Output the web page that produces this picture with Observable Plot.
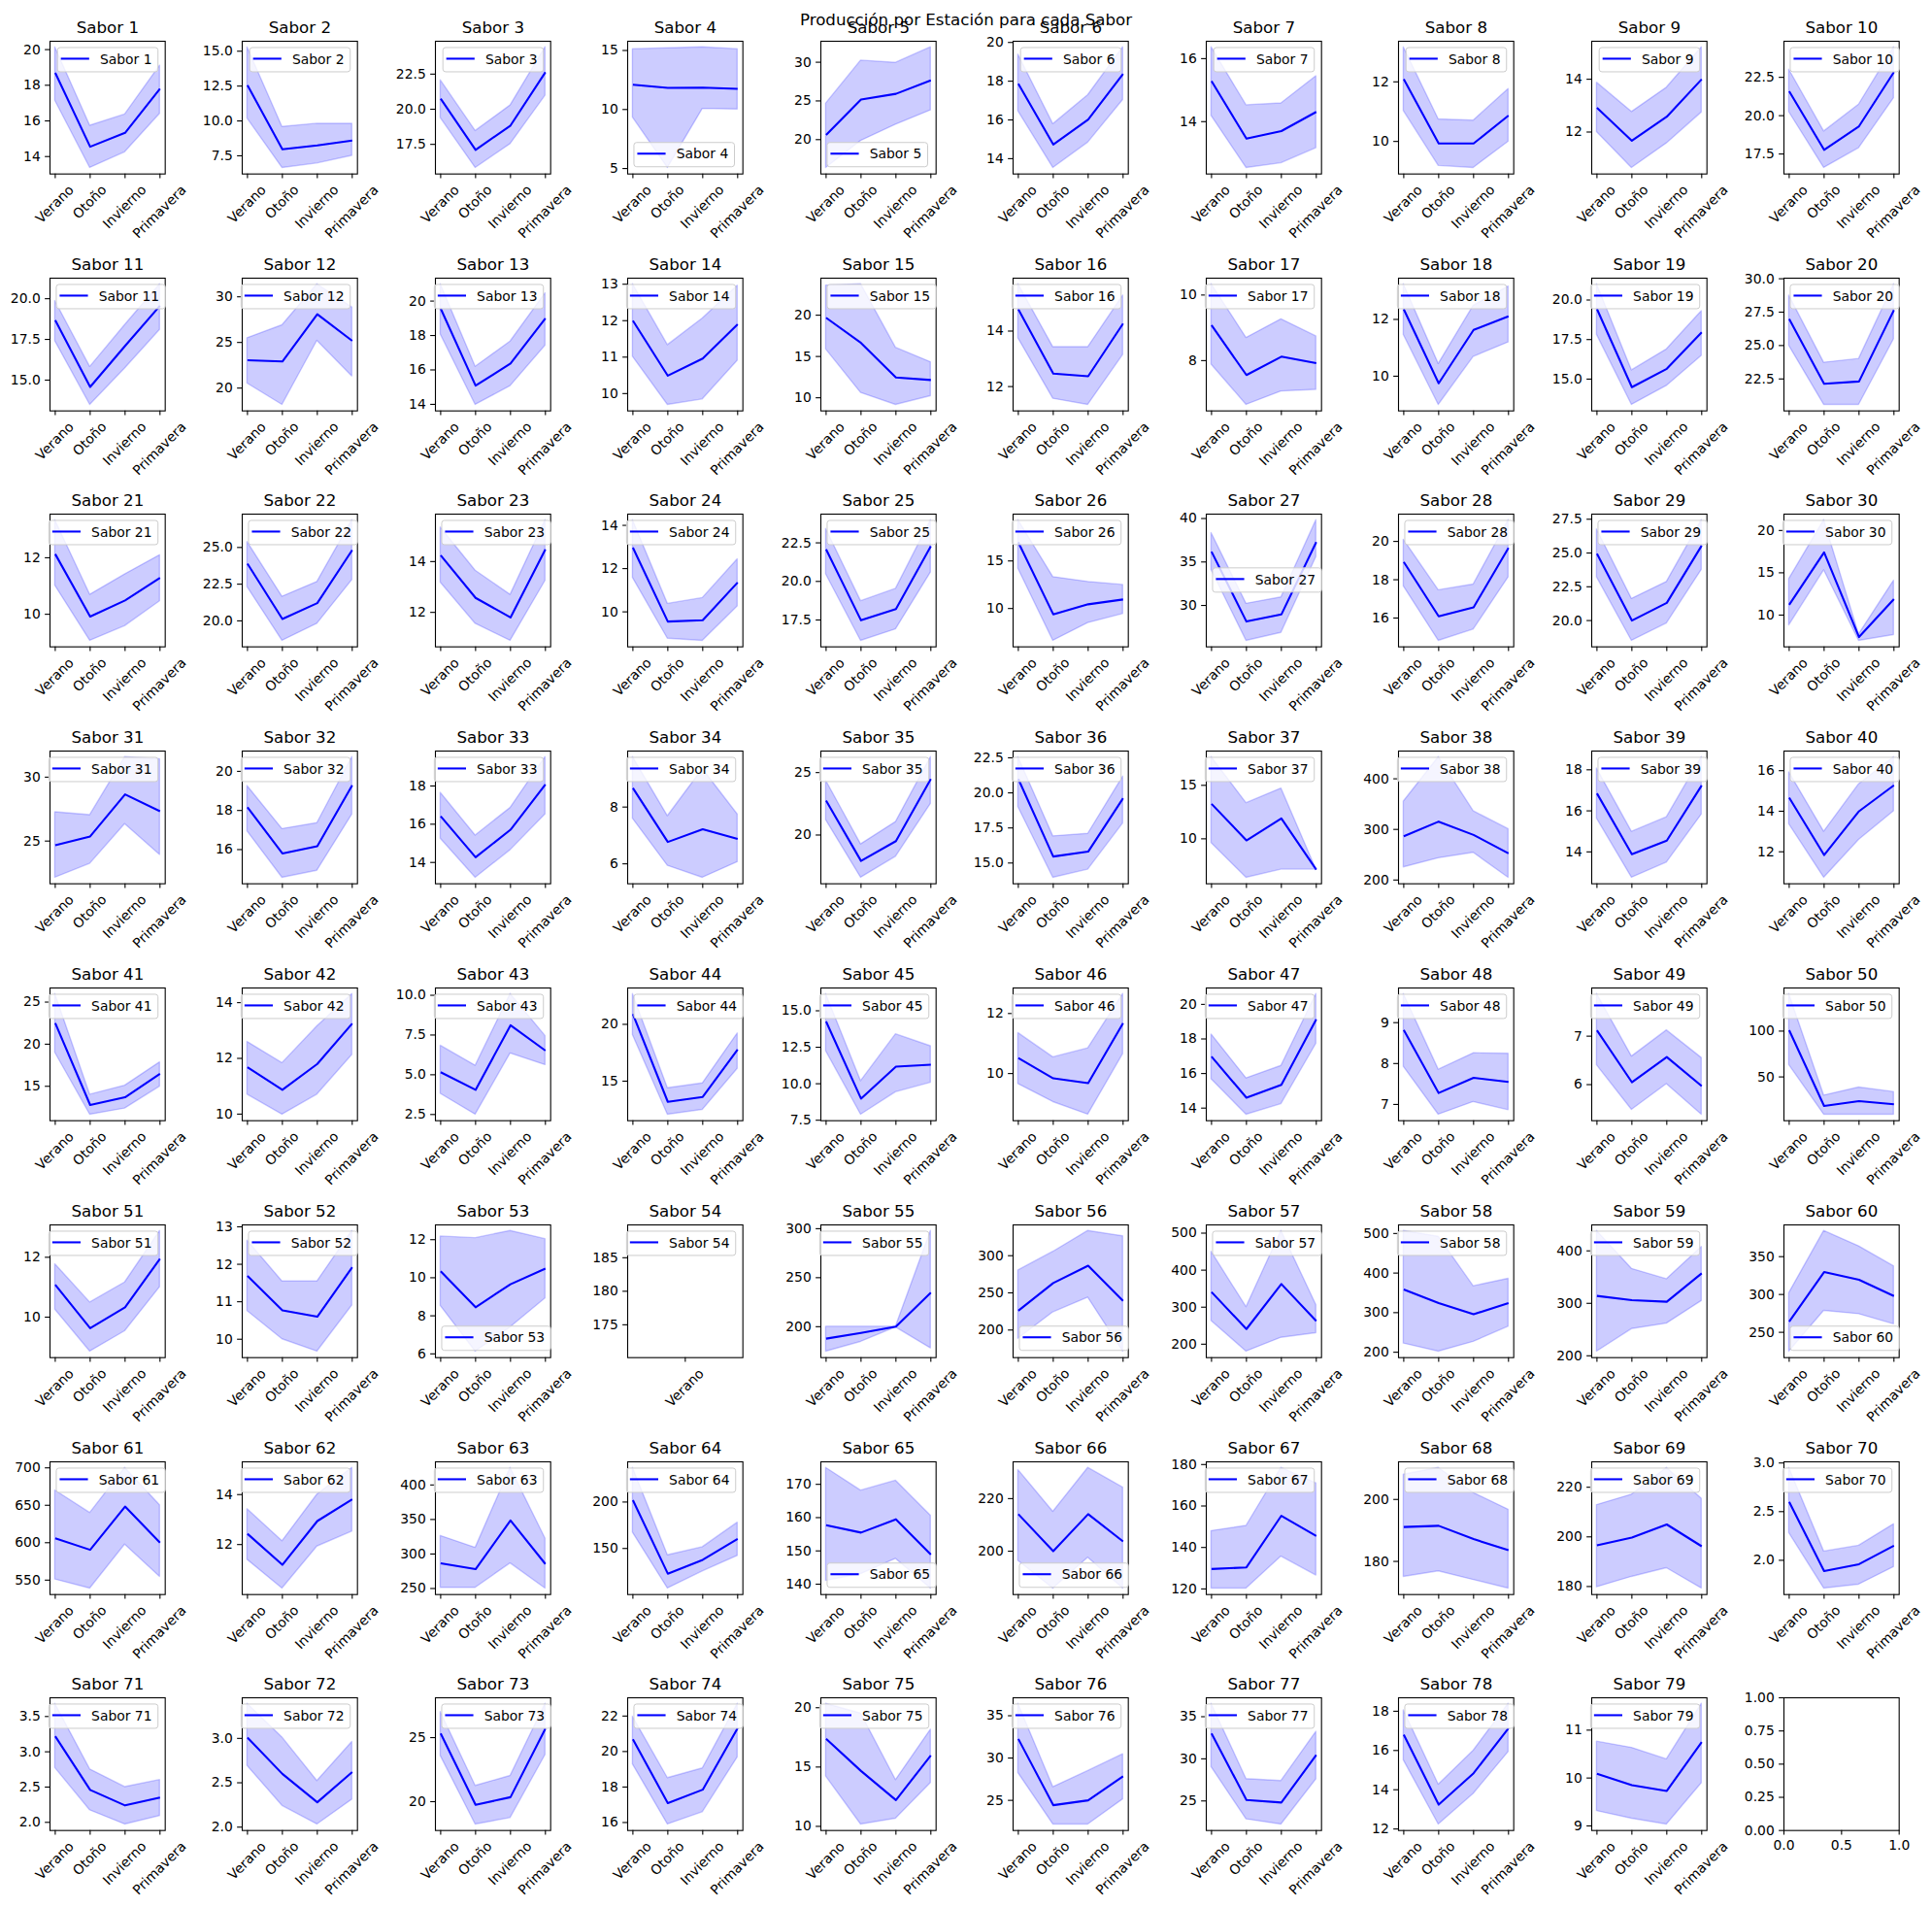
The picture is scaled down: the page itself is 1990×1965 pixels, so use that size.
<!DOCTYPE html>
<html lang="es">
<head>
<meta charset="utf-8">
<title>Producción por Estación para cada Sabor</title>
<script src="https://cdn.jsdelivr.net/npm/d3@7"></script>
<script src="https://cdn.jsdelivr.net/npm/@observablehq/plot@0.6"></script>
<style>
html,body{margin:0;padding:0;background:#fff;}
#figure{position:relative;width:1990px;height:1965px;overflow:hidden;font-family:"DejaVu Sans",sans-serif;color:#000;background:#fff;}
#figure svg{position:absolute;}
#suptitle{position:absolute;left:0;width:1990px;top:13.4px;text-align:center;font-size:16.67px;line-height:1;white-space:nowrap;font-family:"DejaVu Sans",sans-serif;}
</style>
</head>
<body>
<div id="figure"></div>
<script>
// ---------------- DATA ----------------
const chartTitle = "Producción por Estación para cada Sabor";
const seasons = ["Verano", "Otoño", "Invierno", "Primavera"];
const flavors = Array.from({length: 79}, (_, i) => `Sabor ${i + 1}`);

const meanValues = [
  [18.7,14.55,15.33,17.8],[12.56,7.97,8.25,8.6],[20.75,17.11,18.84,22.64],[12.1,11.83,11.86,11.75],[20.59,25.17,25.92,27.65],
  [17.87,14.73,16.02,18.37],[15.29,13.46,13.7,14.31],[12.09,9.93,9.93,10.87],[12.92,11.67,12.58,14.0],[21.59,17.77,19.31,22.84],
  [18.68,14.58,17.1,19.57],[23.05,22.91,28.09,25.18],[19.57,15.09,16.37,19.0],[12.0,10.49,10.96,11.9],[19.69,16.64,12.46,12.15],
  [14.79,12.47,12.37,14.27],[9.08,7.56,8.12,7.92],[12.36,9.75,11.63,12.11],[19.43,14.49,15.65,17.96],[26.99,22.14,22.31,27.65],
  [12.13,9.92,10.49,11.29],[23.9,20.13,21.21,24.82],[14.25,12.57,11.8,14.48],[12.97,9.55,9.61,11.36],[22.08,17.48,18.21,22.29],
  [16.97,9.39,10.44,10.95],[36.19,28.15,28.96,37.3],[18.93,16.09,16.56,19.66],[24.95,20.0,21.31,25.55],[11.22,17.41,7.41,11.9],
  [24.67,25.36,28.65,27.33],[18.16,15.8,16.17,19.29],[16.42,14.27,15.71,18.08],[8.67,6.77,7.22,6.88],[22.75,17.93,19.51,24.48],
  [20.99,15.46,15.81,19.61],[13.27,9.85,11.91,7.12],[286.5,315.4,289.1,252.6],[16.85,13.89,14.55,17.24],[14.67,11.84,14.0,15.28],
  [22.51,12.78,13.7,16.49],[11.68,10.87,11.8,13.25],[5.16,4.05,8.11,6.52],[20.91,13.18,13.61,17.78],[14.27,8.98,11.17,11.31],
  [10.52,9.84,9.68,11.68],[16.98,14.6,15.35,19.14],[8.82,7.28,7.65,7.55],[7.12,6.05,6.57,5.97],[101,18.3,23.6,20.1],
  [11.08,9.63,10.33,11.95],[11.69,10.77,10.6,11.92],[10.34,8.45,9.66,10.48],[180],[187.8,193.7,200,234.7],
  [226,263.2,286.6,239.2],[340.9,240.9,362.6,262.6],[358.6,324.3,295.9,324.3],[314.1,306.1,303.1,357.1],[264,329.6,319.4,298],
  [606,590.5,648.3,600],[12.43,11.19,12.94,13.81],[286.4,278,348.6,285.5],[202,122.9,137.8,160.4],[157.7,155.5,159.5,148.9],
  [214.1,200,214.1,203.7],[129.6,130.4,155.3,145.5],[191.1,191.5,187.2,183.6],[196.6,199.7,205,196.2],[2.6,1.89,1.96,2.15],
  [3.22,2.46,2.24,2.35],[3.01,2.6,2.28,2.62],[25.33,19.75,20.35,25.7],[20.69,17.09,17.85,21.32],[17.38,14.67,12.21,15.97],
  [32.26,24.43,25.0,27.85],[33.02,25.11,24.81,30.46],[16.81,13.24,14.84,17.14],[10.09,9.85,9.73,10.75]
];

const lowerValues = [
  [17.13,13.36,14.24,16.4],[10.17,6.63,6.95,7.5],[19.37,15.82,17.52,20.96],[9.32,5.05,10.05,10.0],[16.34,19.83,21.93,23.78],
  [16.45,13.52,14.83,17.03],[14.18,12.53,12.68,13.16],[11.02,9.18,9.11,9.99],[12.0,10.64,11.57,12.74],[20.23,16.59,17.88,21.14],
  [17.39,13.48,15.71,18.08],[20.5,18.16,25.18,21.28],[18.06,13.97,15.06,17.41],[11.01,9.69,9.84,10.9],[15.86,10.59,9.14,10.2],
  [13.74,11.56,11.34,13.14],[7.88,6.65,7.06,7.11],[11.45,8.99,10.68,11.19],[17.8,13.37,14.57,16.47],[24.98,20.56,20.56,25.46],
  [11.01,9.06,9.58,10.46],[22.3,18.64,19.8,22.78],[13.17,11.55,10.88,13.24],[11.57,8.76,8.66,10.25],[20.46,16.15,16.89,20.57],
  [14.18,6.6,8.47,9.42],[34.07,25.93,26.85,35.56],[17.65,14.81,15.4,18.12],[23.2,18.5,19.79,23.75],[8.78,15.3,6.96,7.64],
  [22.13,23.22,26.32,23.91],[16.93,14.56,14.92,17.79],[15.24,13.2,14.64,16.51],[7.59,5.93,5.51,6.06],[21.19,16.58,18.26,22.49],
  [18.98,13.95,14.53,17.82],[9.61,6.36,7.12,7.12],[225,243,253.8,204.5],[15.62,12.74,13.48,15.82],[13.36,10.72,12.59,14.0],
  [18.98,11.63,12.36,14.96],[10.7,9.98,10.7,12.12],[3.8,2.49,6.34,5.61],[19.06,12.05,12.47,16.08],[12.23,7.88,9.42,10.07],
  [9.65,9.05,8.63,10.65],[15.67,13.62,14.23,17.72],[7.92,6.75,7.06,6.86],[6.4,5.48,6.01,5.38],[63,8.8,8.8,8.8],
  [10.25,8.85,9.53,11.0],[10.75,10.0,9.67,10.9],[8.52,6.12,7.39,8.91],[null],[174.6,184.5,199.3,177.9],
  [188.3,223.8,243.5,171],[262.6,180,217.4,229.6],[222,201.6,226.2,264.6],[208,250.9,261.3,304.3],[224.5,278.3,274,260.6],
  [550.9,538.8,597.4,554.3],[11.39,10.24,11.92,12.52],[251,251,286.4,250],[167,106.9,125.3,142],[141,143,147.6,138.7],
  [196.3,185.8,197.5,185.8],[120.2,120.2,135.6,126.5],[175,176.8,174,171.25],[179.7,183.9,187.4,179.2],[2.28,1.71,1.75,1.93],
  [2.77,2.17,1.97,2.09],[2.69,2.24,2.03,2.31],[23.57,18.22,18.72,23.64],[19.27,15.89,16.58,19.67],[14.2,10.16,10.65,13.65],
  [28.23,22.15,22.15,25.11],[29.01,22.82,22.21,27.56],[15.5,12.23,13.79,15.92],[9.31,9.15,9.03,9.89]
];

const upperValues = [
  [20.13,15.73,16.36,19.1],[15.28,9.57,9.8,9.8],[22.06,18.45,20.27,24.41],[15.11,15.19,15.27,15.11],[24.66,30.21,29.92,31.93],
  [19.37,15.78,17.28,19.75],[16.36,14.52,14.58,15.44],[13.16,10.74,10.7,11.76],[13.87,12.76,13.68,15.21],[23.0,18.97,20.72,24.46],
  [19.86,15.81,18.38,20.89],[25.46,26.88,31.38,28.83],[20.98,16.18,17.65,20.45],[13.0,11.33,12.06,12.96],[23.59,23.75,16.05,14.3],
  [15.69,13.42,13.42,15.28],[10.33,8.69,9.26,8.74],[13.24,10.43,12.48,13.16],[21.0,15.55,16.88,19.29],[28.74,23.71,24.0,29.59],
  [13.33,10.69,11.41,12.09],[25.37,21.64,22.65,26.86],[15.34,13.64,12.69,15.63],[14.24,10.37,10.64,12.43],[23.4,18.72,19.52,23.97],
  [19.29,13.3,12.79,12.48],[38.33,30.19,30.93,39.81],[20.09,17.45,17.75,21.11],[26.74,21.6,22.86,27.43],[14.26,21.22,7.72,14.07],
  [27.26,27.03,31.57,31.4],[19.25,17.05,17.35,20.73],[17.64,15.41,16.85,19.51],[9.76,7.68,9.34,7.74],[24.35,19.25,21.04,26.24],
  [22.55,16.9,17.08,21.16],[17.64,13.33,14.7,7.12],[355,442.9,335.9,300.6],[18.06,14.98,15.69,18.62],[15.92,12.99,15.33,16.67],
  [25.96,14.0,15.08,17.84],[12.59,11.83,13.15,14.31],[6.83,5.57,10.08,7.44],[22.67,14.38,14.8,19.2],[16.15,10.18,13.39,12.57],
  [11.35,10.54,10.84,12.65],[18.26,15.72,16.44,20.6],[9.7,7.85,8.25,8.24],[7.87,6.58,7.12,6.55],[140.5,29.6,38.4,33.5],
  [11.77,10.49,11.16,12.88],[12.63,11.54,11.54,12.89],[12.17,12.08,12.46,12.03],[null],[200,200,200,297.7],
  [280.1,305.2,333.3,326],[449.6,300,506,306],[506.5,491.8,366.7,385.5],[438,365.6,346,407.4],[301.7,384,363.6,337.2],
  [669.8,639.7,700,650],[13.42,12.13,14.0,15.07],[326.2,308.9,424.8,322.4],[236.8,142.7,151.4,177.8],[174.95,168.1,171.1,160.6],
  [230.9,214.97,231.7,224.2],[147.9,150.4,178.4,170.9],[208,210.2,202.1,196.7],[212.8,217,227.8,215.4],[2.95,2.09,2.15,2.37],
  [3.68,2.75,2.5,2.6],[3.39,3.01,2.52,2.96],[27.0,21.23,22.01,27.64],[21.96,18.5,19.05,22.69],[20.33,19.51,13.9,18.15],
  [36.41,26.56,28.46,30.44],[36.53,27.6,27.37,33.2],[18.05,14.26,15.99,18.38],[10.76,10.63,10.39,11.55]
];

const yTickValues = [
  [14,16,18,20],[7.5,10,12.5,15],[17.5,20,22.5],[5,10,15],[20,25,30],
  [14,16,18,20],[14,16],[10,12],[12,14],[17.5,20,22.5],
  [15,17.5,20],[20,25,30],[14,16,18,20],[10,11,12,13],[10,15,20],
  [12,14],[8,10],[10,12],[15,17.5,20],[22.5,25,27.5,30],
  [10,12],[20,22.5,25],[12,14],[10,12,14],[17.5,20,22.5],
  [10,15],[30,35,40],[16,18,20],[20,22.5,25,27.5],[10,15,20],
  [25,30],[16,18,20],[14,16,18],[6,8],[20,25],
  [15,17.5,20,22.5],[10,15],[200,300,400],[14,16,18],[12,14,16],
  [15,20,25],[10,12,14],[2.5,5,7.5,10],[15,20],[7.5,10,12.5,15],
  [10,12],[14,16,18,20],[7,8,9],[6,7],[50,100],
  [10,12],[10,11,12,13],[6,8,10,12],[175,180,185],[200,250,300],
  [200,250,300],[200,300,400,500],[200,300,400,500],[200,300,400],[250,300,350],
  [550,600,650,700],[12,14],[250,300,350,400],[150,200],[140,150,160,170],
  [200,220],[120,140,160,180],[180,200],[180,200,220],[2,2.5,3],
  [2,2.5,3,3.5],[2,2.5,3],[20,25],[16,18,20,22],[10,15,20],
  [25,30,35],[25,30,35],[12,14,16,18],[9,10,11]
];

// empty 80th axes (matplotlib defaults)
const emptyTicksY = [0, 0.25, 0.5, 0.75, 1];
const emptyTicksX = [0, 0.5, 1];

// ---------------- STYLE / LAYOUT ----------------
// legend placement chosen by matplotlib "best" (default upper right)
const legendUpperLeft = new Set([10,11,15,20,22,23,25,28,29,39,40,44,52,57,61,68,73,74,78]);
const legendLowerLeft = new Set([4,5,53,56,60,65,66]);
const legendCenterLeft = new Set([27]);

const F = 13.89, FT = 16.67, TICK = 4.86, PAD = 4.86;
const AXW = 118.7, AXH = 136.7;
const COL0 = 50.7, COLSTEP = 198.5, ROW0 = 41.7, ROWSTEP = 243.8;
const MG = {top: 40, right: 50, bottom: 100, left: 60};
const BLUE = "#0000ff";

const measure = (() => {
  const c = document.createElement("canvas").getContext("2d");
  c.font = `${F}px "DejaVu Sans"`;
  return s => c.measureText(s).width;
})();

function tickFmt(ticks) {
  const dec = d3.max(ticks, t => { const s = String(t); const k = s.indexOf("."); return k < 0 ? 0 : s.length - k - 1; });
  return d3.format(`.${dec}f`);
}

function yDomain(vals) {
  let lo = d3.min(vals), hi = d3.max(vals);
  if (hi - lo < 1e-9 * Math.max(1, Math.abs(hi))) { lo -= 0.05 * Math.abs(lo); hi += 0.05 * Math.abs(hi); }
  const m = 0.05 * (hi - lo);
  return [lo - m, hi + m];
}

function legendMark(label, loc) {
  return function (index, scales, values, dims) {
    const padL = 0.25 * F, padR = 0.45 * F, axpad = 0.5 * F, hl = 2.1 * F, htp = 0.8 * F;
    const w = padL + padR + hl + htp + measure(label), h = 0.8 * F + F;
    const L = dims.marginLeft, R = dims.width - dims.marginRight;
    const T = dims.marginTop, B = dims.height - dims.marginBottom;
    const x = loc[1] === "r" ? R - axpad - w : L + axpad;
    const y = loc[0] === "u" ? T + axpad : loc[0] === "l" ? B - axpad - h : T + (B - T - h) / 2;
    const g = d3.create("svg:g").attr("text-anchor", "start");
    g.append("rect").attr("x", x).attr("y", y).attr("width", w).attr("height", h)
      .attr("rx", 2.8).attr("fill", "#ffffff").attr("fill-opacity", 0.8)
      .attr("stroke", "#cccccc").attr("stroke-width", 1);
    g.append("line").attr("x1", x + padL).attr("x2", x + padL + hl)
      .attr("y1", y + h / 2 - 1).attr("y2", y + h / 2 - 1)
      .attr("stroke", BLUE).attr("stroke-width", 2.08);
    g.append("text").attr("x", x + padL + hl + htp).attr("y", y + h / 2).attr("dy", "0.3em")
      .attr("text-anchor", "start").attr("font-size", F).attr("fill", "#000").text(label);
    return g.node();
  };
}

const svgStyle = {background: "transparent", overflow: "visible", maxWidth: "none",
  fontFamily: "DejaVu Sans", fontSize: `${F}px`, color: "#000"};

const fig = document.getElementById("figure");

function place(svg, r, c) {
  svg.style.left = `${COL0 + c * COLSTEP - MG.left}px`;
  svg.style.top = `${ROW0 + r * ROWSTEP - MG.top}px`;
  fig.appendChild(svg);
}

flavors.forEach((name, k) => {
  const r = Math.floor(k / 10), c = k % 10;
  const mean = meanValues[k], lo = lowerValues[k], hi = upperValues[k];
  const n = mean.length;
  const rows = seasons.slice(0, n).map((s, i) => ({i, season: s, mean: mean[i], lo: lo[i], hi: hi[i]}));
  const band = rows.filter(d => d.lo != null && d.hi != null);
  const yd = yDomain([...mean, ...band.map(d => d.lo), ...band.map(d => d.hi)]);
  const xd = n > 1 ? [-0.05 * (n - 1), (n - 1) * 1.05] : [-0.5, 0.5];
  const ticks = yTickValues[k];
  const id = k + 1;
  const loc = legendUpperLeft.has(id) ? "ul" : legendLowerLeft.has(id) ? "ll" : legendCenterLeft.has(id) ? "cl" : "ur";

  const H = 0.968 * F, desc = 0.208 * F;
  const labelMarks = rows.map(d => {
    const Lw = measure(d.season);
    return Plot.text([d], {
      x: "i", text: "season", frameAnchor: "bottom", rotate: -45, textAnchor: "end", lineAnchor: "bottom",
      fontSize: F, fill: "#000",
      dx: Math.SQRT1_2 * ((Lw + H) / 2 - desc),
      dy: TICK + PAD + Math.SQRT1_2 * (H - desc)
    });
  });

  const svg = Plot.plot({
    width: MG.left + AXW + MG.right, height: MG.top + AXH + MG.bottom,
    marginTop: MG.top, marginRight: MG.right, marginBottom: MG.bottom, marginLeft: MG.left,
    x: {type: "linear", domain: xd},
    y: {type: "linear", domain: yd},
    style: svgStyle,
    marks: [
      band.length > 1 ? Plot.areaY(band, {x: "i", y1: "lo", y2: "hi", fill: BLUE, fillOpacity: 0.2,
        stroke: BLUE, strokeOpacity: 0.2, strokeWidth: 1.39}) : null,
      Plot.lineY(rows, {x: "i", y: "mean", stroke: BLUE, strokeWidth: 2.08, strokeLinecap: "butt"}),
      Plot.frame({stroke: "#000", strokeWidth: 1.1}),
      Plot.axisY(ticks, {tickSize: TICK, tickPadding: PAD, tickFormat: tickFmt(ticks), label: null, fontSize: F, strokeWidth: 1.1}),
      Plot.axisX(rows.map(d => d.i), {tickSize: TICK, tickFormat: () => "", label: null, strokeWidth: 1.1}),
      ...labelMarks,
      Plot.text([name], {text: d => d, frameAnchor: "top", lineAnchor: "bottom", dy: -8.33, fontSize: FT, fill: "#000"}),
      legendMark(name, loc)
    ]
  });
  place(svg, r, c);
});

// empty 80th axes
{
  const svg = Plot.plot({
    width: MG.left + AXW + MG.right, height: MG.top + AXH + MG.bottom,
    marginTop: MG.top, marginRight: MG.right, marginBottom: MG.bottom, marginLeft: MG.left,
    x: {type: "linear", domain: [0, 1]},
    y: {type: "linear", domain: [0, 1]},
    style: svgStyle,
    marks: [
      Plot.frame({stroke: "#000", strokeWidth: 1.1}),
      Plot.axisY(emptyTicksY, {tickSize: TICK, tickPadding: PAD, tickFormat: tickFmt(emptyTicksY), label: null, fontSize: F, strokeWidth: 1.1}),
      Plot.axisX(emptyTicksX, {tickSize: TICK, tickPadding: PAD, tickFormat: d3.format(".1f"), label: null, fontSize: F, strokeWidth: 1.1})
    ]
  });
  place(svg, 7, 9);
}

const st = document.createElement("div");
st.id = "suptitle";
st.textContent = chartTitle;
fig.appendChild(st);
</script>
</body>
</html>
